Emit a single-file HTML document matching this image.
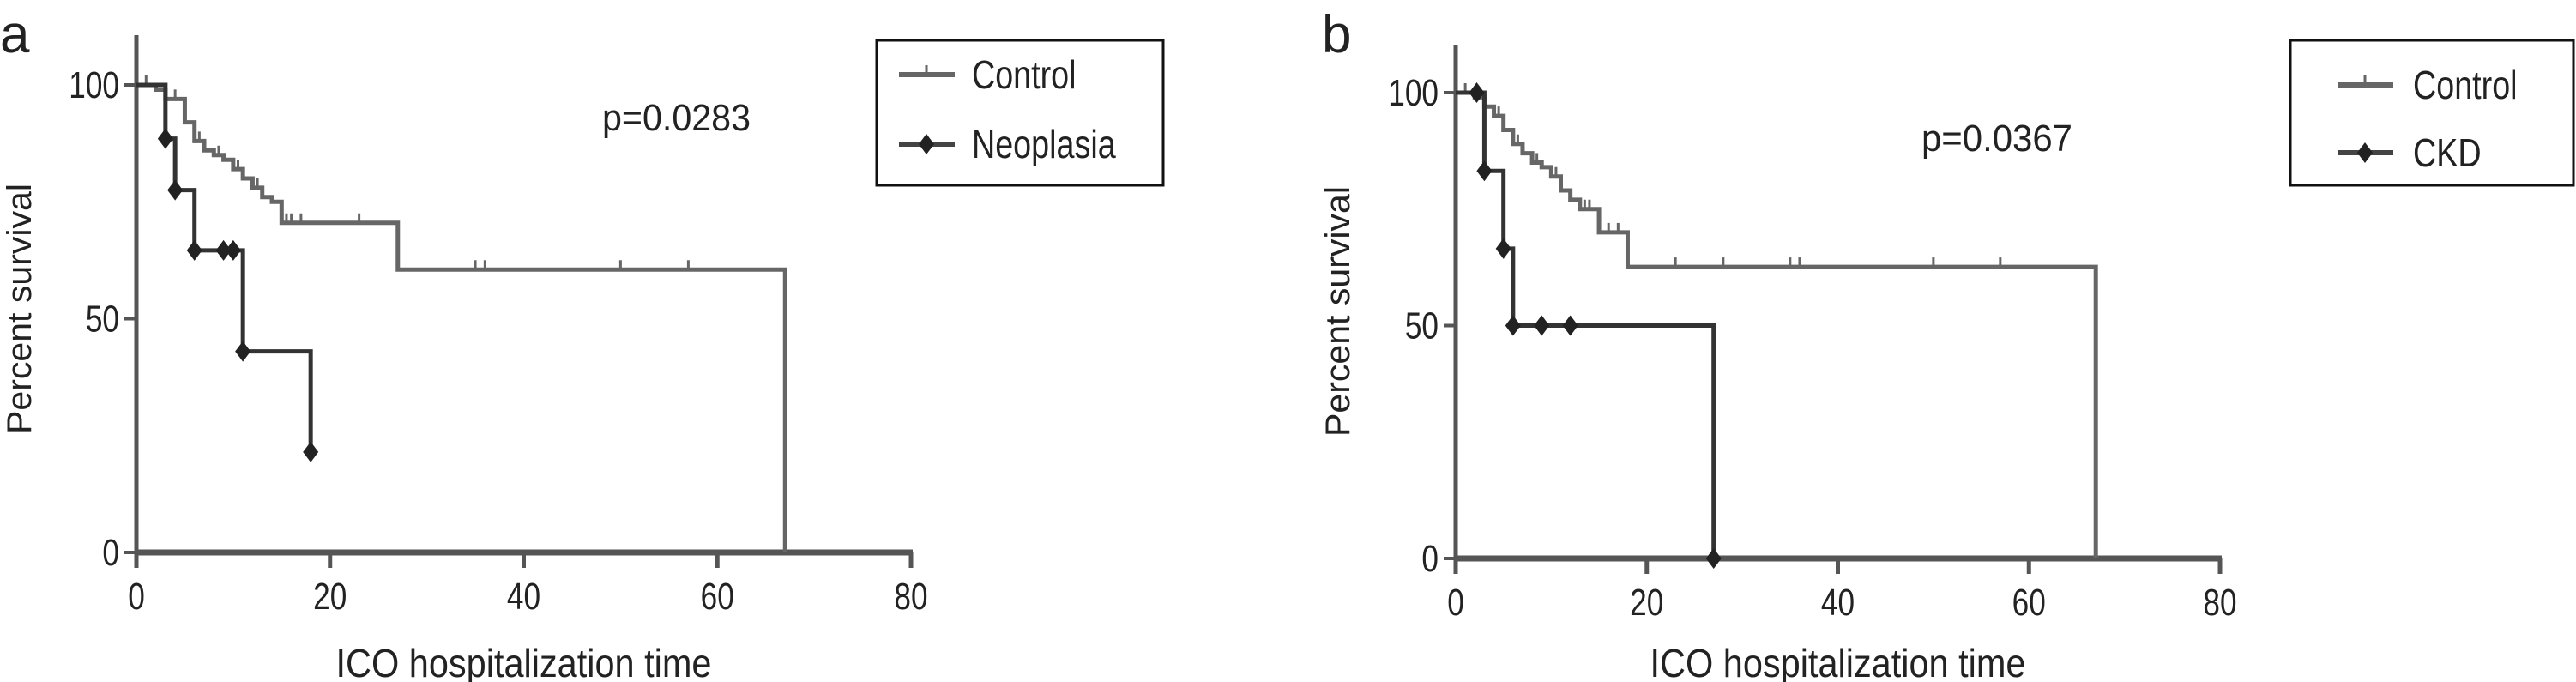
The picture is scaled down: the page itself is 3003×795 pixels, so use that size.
<!DOCTYPE html>
<html><head><meta charset="utf-8"><style>
html,body{margin:0;padding:0;background:#fff;width:3003px;height:795px;overflow:hidden}
svg{display:block}
text{font-family:"Liberation Sans",sans-serif;fill:#222}
</style></head><body>
<svg id="fig" width="3003" height="795" viewBox="0 0 3003 795"></svg>
<script>
// Panel a data
const aCtrlT = [0,2,3,5,6,7,8,9,10,11,12,13,14,15,27,67];
const aCtrlS = [100,99,97,92,88,86,85,84,82,80,78,76,75,70.5,60.5,0];
const aCtrlCens = [1,4,6.5,8.5,10.5,12.5,15.5,16,17,23,35,36,50,57];
const aNeoT = [0,3,4,6,11,18];
const aNeoS = [100,88.5,77.5,64.6,43,21.5];
const aNeoMarkT = [3,4,6,9,10,11,18];
// Panel b data
const bCtrlT = [0,2,3,4,5,6,7,8,9,10,11,12,13,15,18,67];
const bCtrlS = [100,99,97,95,92,89,87,85,84,82,79,77,75,70,62.6,0];
const bCtrlCens = [1,4.5,6.5,8.5,10.5,13.5,14,16,17,23,28,35,36,50,57];
const bCkdT = [0,3,5,6,27];
const bCkdS = [100,83.2,66.5,50,0];
const bCkdMarkT = [2.2,3,5,6,9,12,27];
const xTicks = [0,20,40,60,80];
const yTicks = [0,50,100];

const svg = document.getElementById('fig');
const NS = 'http://www.w3.org/2000/svg';
function mk(tag, attrs, parent){const e=document.createElementNS(NS,tag);for(const k in attrs)e.setAttribute(k,attrs[k]);(parent||svg).appendChild(e);return e;}

function stepAt(T,S,t){let s=S[0];for(let i=0;i<T.length;i++){if(T[i]<=t)s=S[i];}return s;}

function panel(cfg){
  const g = mk('g',{});
  
  
  const X = t => cfg.x0 + (cfg.x80-cfg.x0)*t/80;
  const Y = s => cfg.y0 - (cfg.y0-cfg.y100)*s/100;
  const ya = mk('line',{x1:X(0),y1:cfg.yTop,x2:X(0),y2:Y(0)+4,stroke:'#555','stroke-width':5},g);
  
  
  const xa = mk('line',{x1:X(0)-2,y1:Y(0),x2:X(80)+2,y2:Y(0),stroke:'#555','stroke-width':7},g);
  
  
  xTicks.forEach(v=>{
    mk('line',{x1:X(v),y1:Y(0),x2:X(v),y2:Y(0)+18,stroke:'#555','stroke-width':5},g);
    const t = mk('text',{x:X(v),y:Y(0)+66,'font-size':44,'text-anchor':'middle',transform:`translate(${X(v)} 0) scale(0.8 1) translate(${-X(v)} 0)`},g);
    t.textContent = v;
    
    
  });
  yTicks.forEach(v=>{
    mk('line',{x1:X(0)-14,y1:Y(v),x2:X(0),y2:Y(v),stroke:'#555','stroke-width':4},g);
    const t = mk('text',{x:X(0)-20,y:Y(v)+15,'font-size':44,'text-anchor':'end',transform:`translate(${X(0)-20} 0) scale(0.8 1) translate(${-(X(0)-20)} 0)`},g);
    t.textContent = v;
    
    
  });
  let d = `M${X(0)},${Y(cfg.cS[0])}`;
  for(let i=1;i<cfg.cT.length;i++){d+=` H${X(cfg.cT[i])} V${Y(cfg.cS[i])}`;}
  const cp = mk('path',{d:d,fill:'none',stroke:'#666','stroke-width':5},g);
  
  
  cfg.cC.forEach(t=>{
    const y = Y(stepAt(cfg.cT,cfg.cS,t));
    const c = mk('line',{x1:X(t),y1:y,x2:X(t),y2:y-11,stroke:'#666','stroke-width':3},g);
    
    
  });
  let d2 = `M${X(0)},${Y(cfg.gS[0])}`;
  for(let i=1;i<cfg.gT.length;i++){d2+=` H${X(cfg.gT[i])} V${Y(cfg.gS[i])}`;}
  const gp = mk('path',{d:d2,fill:'none',stroke:'#333','stroke-width':5},g);
  
  
  cfg.gM.forEach(t=>{
    const x=X(t), y=Y(stepAt(cfg.gT,cfg.gS,t));
    const dm = mk('path',{d:`M${x},${y-12} L${x+9},${y} L${x},${y+12} L${x-9},${y} Z`,fill:'#222'},g);
    
    
  });
  const pl = mk('text',{x:cfg.panelX,y:61,'font-size':62},g);
  pl.textContent = cfg.letter;
  
  
  const xl = mk('text',{x:(X(0)+X(80))/2,y:789,'font-size':46,'text-anchor':'middle',textLength:438,lengthAdjust:'spacingAndGlyphs'},g);
  xl.textContent = 'ICO hospitalization time';
  
  
  const yl = mk('text',{x:0,y:0,'font-size':40,'text-anchor':'middle',textLength:292,lengthAdjust:'spacingAndGlyphs',transform:`translate(${cfg.ylX},${cfg.ylY}) rotate(-90)`},g);
  yl.textContent = 'Percent survival';
  
  
  const pv = mk('text',{x:cfg.pX,y:cfg.pY+16,'font-size':44,textLength:cfg.pW,lengthAdjust:'spacingAndGlyphs'},g);
  pv.textContent = cfg.pText;
  
  
  const lg = mk('g',{},g);
  
  
  mk('rect',{x:cfg.L.x,y:47,width:cfg.L.w,height:169,fill:'none',stroke:'#111','stroke-width':3},lg);
  const e1 = mk('g',{},lg);
  
  
  mk('line',{x1:cfg.L.lx,y1:cfg.L.y1,x2:cfg.L.lx+65,y2:cfg.L.y1,stroke:'#666','stroke-width':6},e1);
  mk('line',{x1:cfg.L.lx+32,y1:cfg.L.y1,x2:cfg.L.lx+32,y2:cfg.L.y1-11,stroke:'#666','stroke-width':3},e1);
  const t1 = mk('text',{x:cfg.L.tx,y:cfg.L.y1+16,'font-size':46,transform:`translate(${cfg.L.tx} 0) scale(0.82 1) translate(${-cfg.L.tx} 0)`},e1);
  t1.textContent = 'Control';
  const e2 = mk('g',{},lg);
  
  
  mk('line',{x1:cfg.L.lx,y1:cfg.L.y2,x2:cfg.L.lx+65,y2:cfg.L.y2,stroke:'#444','stroke-width':6},e2);
  const cx = cfg.L.lx+32, cy = cfg.L.y2;
  mk('path',{d:`M${cx},${cy-12} L${cx+9},${cy} L${cx},${cy+12} L${cx-9},${cy} Z`,fill:'#222'},e2);
  const t2 = mk('text',{x:cfg.L.tx,y:cfg.L.y2+16,'font-size':46,transform:`translate(${cfg.L.tx} 0) scale(0.82 1) translate(${-cfg.L.tx} 0)`},e2);
  t2.textContent = cfg.gLabel;
}

panel({name:'panel-a',letter:'a',panelX:0,x0:159,x80:1062,y0:644,y100:99,yTop:41,
  cT:aCtrlT,cS:aCtrlS,cC:aCtrlCens,gT:aNeoT,gS:aNeoS,gM:aNeoMarkT,gName:'neoplasia',gLabel:'Neoplasia',
  ylX:36,ylY:360,pX:702,pY:136,pW:173,pText:'p=0.0283',
  L:{x:1022,w:334,lx:1048,tx:1133,y1:87,y2:168}});
panel({name:'panel-b',letter:'b',panelX:1541,x0:1697,x80:2588,y0:651,y100:108,yTop:53,
  cT:bCtrlT,cS:bCtrlS,cC:bCtrlCens,gT:bCkdT,gS:bCkdS,gM:bCkdMarkT,gName:'ckd',gLabel:'CKD',
  ylX:1573,ylY:363,pX:2240,pY:160,pW:176,pText:'p=0.0367',
  L:{x:2670,w:330,lx:2725,tx:2813,y1:99,y2:178}});
</script>
</body></html>
